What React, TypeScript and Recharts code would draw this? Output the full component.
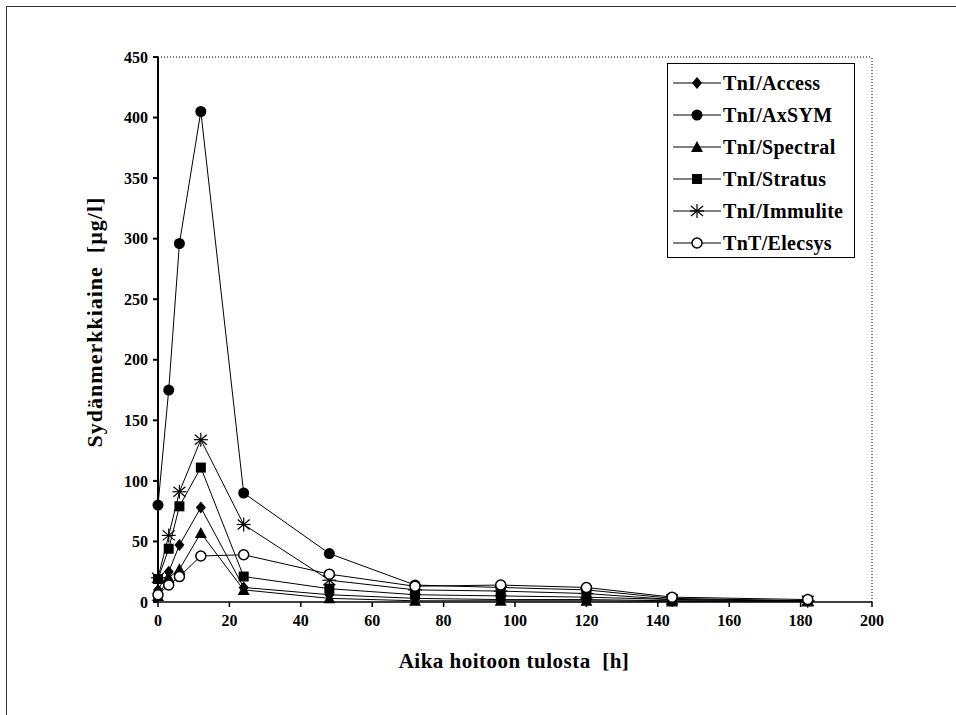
import React from 'react';
import { LineChart, Line, XAxis, YAxis, ReferenceLine, Legend } from 'recharts';

// hours after admission
const hours = [0, 3, 6, 12, 24, 48, 72, 96, 120, 144, 182];

// marker concentrations, µg/l
const access = [10, 25, 47, 78, 12, 6, 3, 2, 2, 1, 1];
const axsym = [80, 175, 296, 405, 90, 40, 14, 12, 10, 3, 1];
const spectral = [5, 20, 27, 57, 10, 3, 1, 1, 1, 0.5, 0.5];
const stratus = [19, 44, 79, 111, 21, 11, 6, 5, 4, 2, 1];
const immulite = [20, 55, 91, 134, 64, 18, 10, 9, 7, 2, 1];
const elecsys = [6, 14, 21, 38, 39, 23, 13, 14, 12, 4, 2];

const xTicks = [0, 20, 40, 60, 80, 100, 120, 140, 160, 180, 200];
const yTicks = [0, 50, 100, 150, 200, 250, 300, 350, 400, 450];

const series = [
  { key: 'access', name: 'TnI/Access', shape: 'diamond' },
  { key: 'axsym', name: 'TnI/AxSYM', shape: 'circle' },
  { key: 'spectral', name: 'TnI/Spectral', shape: 'triangle' },
  { key: 'stratus', name: 'TnI/Stratus', shape: 'square' },
  { key: 'immulite', name: 'TnI/Immulite', shape: 'star' },
  { key: 'elecsys', name: 'TnT/Elecsys', shape: 'open' },
];

const data = hours.map((h, i) => ({
  h,
  access: access[i],
  axsym: axsym[i],
  spectral: spectral[i],
  stratus: stratus[i],
  immulite: immulite[i],
  elecsys: elecsys[i],
}));

const FONT = '"Liberation Serif", "Times New Roman", serif';

function Marker({ shape, cx, cy }: any) {
  if (cx == null || cy == null) return null;
  switch (shape) {
    case 'diamond':
      return <polygon points={`${cx},${cy - 6} ${cx + 5},${cy} ${cx},${cy + 6} ${cx - 5},${cy}`} fill="#000" />;
    case 'circle':
      return <circle cx={cx} cy={cy} r={5.5} fill="#000" />;
    case 'triangle':
      return <polygon points={`${cx},${cy - 6} ${cx + 6},${cy + 5} ${cx - 6},${cy + 5}`} fill="#000" />;
    case 'square':
      return <rect x={cx - 5} y={cy - 5} width={10} height={10} fill="#000" />;
    case 'star':
      return (
        <g stroke="#000" strokeWidth={1.2}>
          <line x1={cx} y1={cy - 7} x2={cx} y2={cy + 7} />
          <line x1={cx - 6} y1={cy - 5} x2={cx + 6} y2={cy + 5} />
          <line x1={cx - 6} y1={cy + 5} x2={cx + 6} y2={cy - 5} />
          <line x1={cx - 7} y1={cy} x2={cx + 7} y2={cy} />
        </g>
      );
    default:
      return <circle cx={cx} cy={cy} r={5} fill="#fff" stroke="#000" strokeWidth={1.5} />;
  }
}

const renderLegend = () => (
  <div
    style={{
      width: 188,
      height: 195,
      border: '1.5px solid #000',
      background: '#fff',
      boxSizing: 'border-box',
      paddingTop: 3,
    }}
  >
    {series.map((s) => (
      <div key={s.key} style={{ display: 'flex', alignItems: 'center', height: 32 }}>
        <svg width={52} height={20} style={{ marginLeft: 3 }}>
          <line x1={2} y1={10} x2={50} y2={10} stroke="#000" strokeWidth={1} />
          <Marker shape={s.shape} cx={26} cy={10} />
        </svg>
        <span style={{ fontFamily: FONT, fontWeight: 'bold', fontSize: 20, letterSpacing: 0.3, color: '#000' }}>
          {s.name}
        </span>
      </div>
    ))}
  </div>
);

export default function App() {
  const tick = { fontFamily: FONT, fontWeight: 'bold', fontSize: 16, fill: '#000' };
  return (
    <div
      style={{
        position: 'absolute',
        left: 0,
        top: 0,
        width: 956,
        height: 715,
        background: '#fff',
      }}
    >
      <div
        style={{
          position: 'absolute',
          left: 6,
          top: 6,
          width: 950,
          height: 709,
          borderTop: '1.5px solid #333',
          borderLeft: '1.5px solid #333',
        }}
      />
      <div style={{ position: 'absolute', left: 0, top: 0 }}>
        <LineChart width={956} height={715} data={data} margin={{ top: 57, right: 84, bottom: 73, left: 98 }}>
          <ReferenceLine y={450} stroke="#000" strokeDasharray="1 2" />
          <ReferenceLine x={200} stroke="#000" strokeDasharray="1 2" />
          <XAxis
            type="number"
            dataKey="h"
            domain={[0, 200]}
            ticks={xTicks}
            interval={0}
            height={40}
            tickSize={5}
            tickMargin={8}
            stroke="#000"
            strokeWidth={1.5}
            tick={tick}
            label={{
              content: () => (
                <text
                  x={514}
                  y={668}
                  textAnchor="middle"
                  fontFamily={FONT}
                  fontWeight="bold"
                  fontSize={21}
                  letterSpacing={0.5}
                  fill="#000"
                >
                  {'Aika hoitoon tulosta\u00a0\u00a0[h]'}
                </text>
              ),
            }}
          />
          <YAxis
            type="number"
            domain={[0, 450]}
            ticks={yTicks}
            interval={0}
            width={60}
            tickSize={5}
            tickMargin={5}
            stroke="#000"
            strokeWidth={2}
            tick={tick}
            label={{
              content: () => (
                <text
                  x={94}
                  y={322}
                  transform="rotate(-90 94 322)"
                  textAnchor="middle"
                  dominantBaseline="central"
                  fontFamily={FONT}
                  fontWeight="bold"
                  fontSize={22}
                  letterSpacing={1}
                  fill="#000"
                >
                  {'Sydänmerkkiaine\u00a0\u00a0[µg/l]'}
                </text>
              ),
            }}
          />
          {series.map((s) => (
            <Line
              key={s.key}
              type="linear"
              dataKey={s.key}
              name={s.name}
              stroke="#000"
              strokeWidth={1}
              isAnimationActive={false}
              dot={(p: any) => <Marker key={`${s.key}-${p.index}`} shape={s.shape} cx={p.cx} cy={p.cy} />}
              activeDot={false}
            />
          ))}
          <Legend
            layout="vertical"
            align="center"
            verticalAlign="middle"
            content={renderLegend}
            wrapperStyle={{ left: 667, top: 63, width: 188 }}
          />
        </LineChart>
      </div>
    </div>
  );
}
